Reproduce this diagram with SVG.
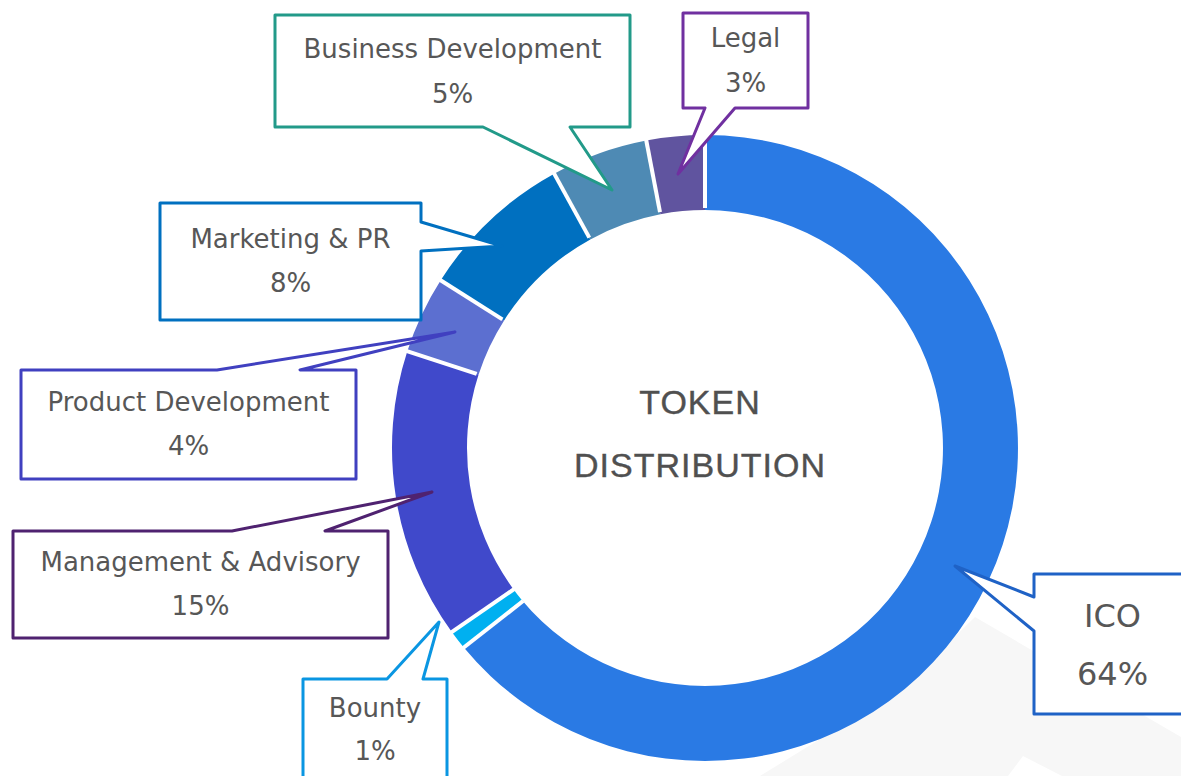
<svg xmlns="http://www.w3.org/2000/svg" width="1181" height="776" viewBox="0 0 1181 776">
<style>
.lbl{font-family:"DejaVu Sans","Liberation Sans",sans-serif;font-size:26px;fill:#575757;text-anchor:middle}
.big{font-size:32px}
.ctr{font-family:"Liberation Sans",Arial,sans-serif;font-size:34px;fill:#505050;text-anchor:middle;letter-spacing:1px;stroke:#505050;stroke-width:0.4}
.co{fill:#ffffff;stroke-width:3;stroke-linejoin:round}
.sep{stroke:#ffffff;stroke-width:4}
</style>
<rect width="1181" height="776" fill="#ffffff"/>
<g id="backdrop">
<polygon points="975,617 1181,737 1181,776 760,776 900,690" fill="#f7f7f7"/>
<polygon points="1008,776 1023,756 1062,776" fill="#ffffff"/>
</g>
<g id="ring">
<path id="seg-ico" d="M705,135 A313,313 0 1 1 463.8,647.5 L521.6,599.7 A238,238 0 1 0 705,210 Z" fill="#2A7AE4"/>
<path id="seg-bounty" d="M463.8,647.5 A313,313 0 0 1 451.8,632 L512.5,587.9 A238,238 0 0 0 521.6,599.7 Z" fill="#00B0F0"/>
<path id="seg-management" d="M451.8,632 A313,313 0 0 1 407.3,351.3 L478.6,374.5 A238,238 0 0 0 512.5,587.9 Z" fill="#4049CB"/>
<path id="seg-product" d="M407.3,351.3 A313,313 0 0 1 440.7,280.3 L504.1,320.5 A238,238 0 0 0 478.6,374.5 Z" fill="#5C6FD0"/>
<path id="seg-marketing" d="M440.7,280.3 A313,313 0 0 1 554.2,173.7 L590.3,239.4 A238,238 0 0 0 504.1,320.5 Z" fill="#0070C0"/>
<path id="seg-bizdev" d="M554.2,173.7 A313,313 0 0 1 646.3,140.5 L660.4,214.2 A238,238 0 0 0 590.3,239.4 Z" fill="#4E8AB4"/>
<path id="seg-legal" d="M646.3,140.5 A313,313 0 0 1 705,135 L705,210 A238,238 0 0 0 660.4,214.2 Z" fill="#60549F"/>
<g class="sep">
<line x1="705" y1="208" x2="705" y2="133"/>
<line x1="523.1" y1="601" x2="462.2" y2="648.8"/>
<line x1="514.1" y1="589.1" x2="450.2" y2="633.2"/>
<line x1="476.7" y1="373.9" x2="405.4" y2="350.7"/>
<line x1="502.4" y1="319.4" x2="439" y2="279.2"/>
<line x1="589.3" y1="237.6" x2="553.2" y2="171.9"/>
<line x1="660" y1="212.2" x2="645.9" y2="138.5"/>
</g>
</g>
<g id="center-title">
<text class="ctr" x="700" y="414">TOKEN</text>
<text class="ctr" x="700" y="477">DISTRIBUTION</text>
</g>
<g id="callout-bizdev">
<path class="co" stroke="#229A89" d="M275,15 H630 V127 H570 L612,190 L483,127 H275 Z"/>
<text class="lbl" x="452.5" y="58">Business Development</text>
<text class="lbl" x="452.5" y="103">5%</text>
</g>
<g id="callout-legal">
<path class="co" stroke="#7030A0" d="M683,13 H808 V108 H735 L678,174 L705,108 H683 Z"/>
<text class="lbl" x="745.5" y="47">Legal</text>
<text class="lbl" x="745.5" y="92">3%</text>
</g>
<g id="callout-marketing">
<path class="co" stroke="#0070C0" d="M160,203 H421 V222 L502,246 L421,251 V320 H160 Z"/>
<text class="lbl" x="290.5" y="248">Marketing &amp; PR</text>
<text class="lbl" x="290.5" y="292">8%</text>
</g>
<g id="callout-product">
<path class="co" stroke="#4040C0" d="M21,370 H217 L455,332 L300,370 H356 V479 H21 Z"/>
<text class="lbl" x="188.5" y="411">Product Development</text>
<text class="lbl" x="188.5" y="455">4%</text>
</g>
<g id="callout-management">
<path class="co" stroke="#4F2270" d="M13,531 H232 L432,492 L325,531 H388 V638 H13 Z"/>
<text class="lbl" x="200.5" y="571">Management &amp; Advisory</text>
<text class="lbl" x="200.5" y="615">15%</text>
</g>
<g id="callout-bounty">
<path class="co" stroke="#0A96E2" d="M303,790 V679 H387 L439,622 L423,679 H447 V790"/>
<text class="lbl" x="375" y="717">Bounty</text>
<text class="lbl" x="375" y="760">1%</text>
</g>
<g id="callout-ico">
<path class="co" stroke="#1F62C6" d="M1195,574 H1034 V597 L955,566 L1034,631 V714 H1195"/>
<text class="lbl big" x="1112.5" y="627">ICO</text>
<text class="lbl big" x="1112.5" y="685">64%</text>
</g>
</svg>
